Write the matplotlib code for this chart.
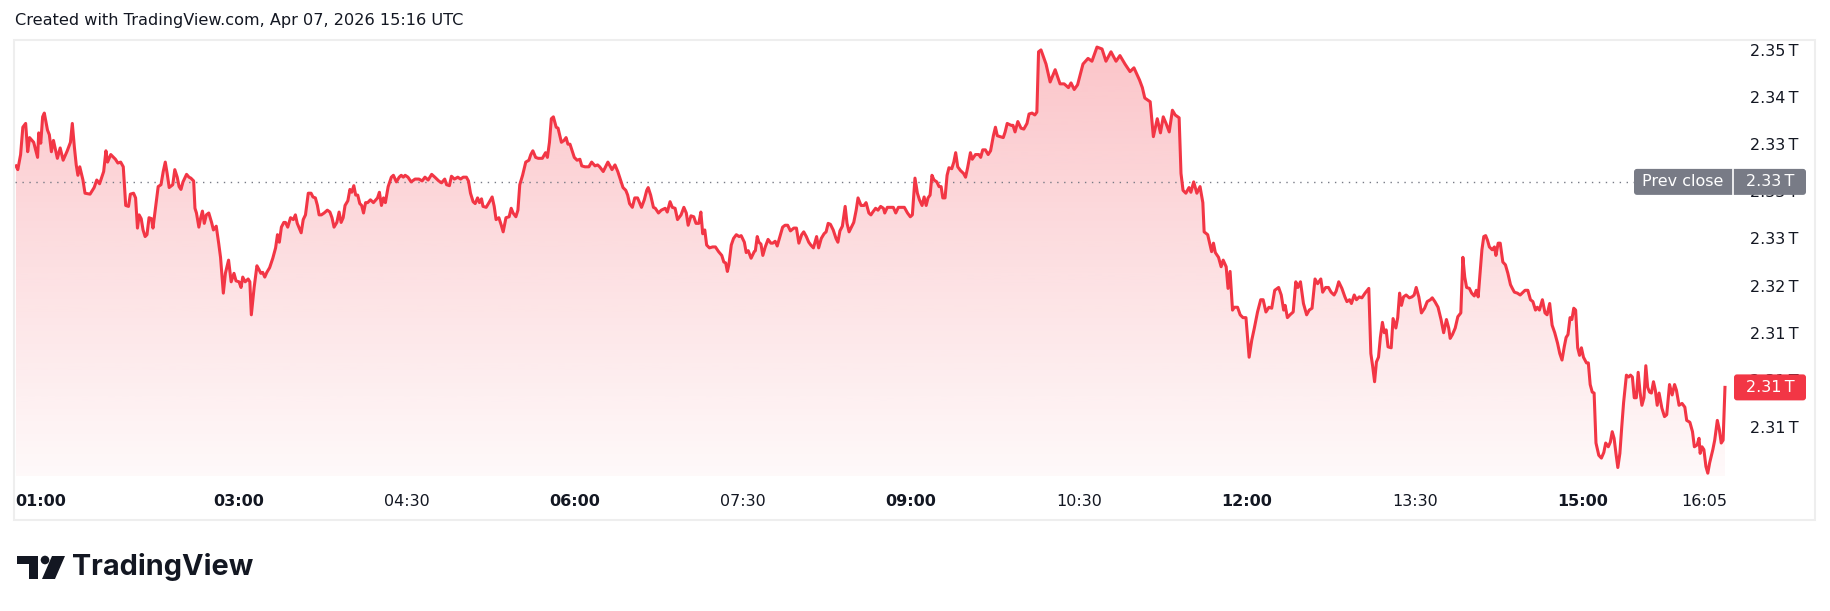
import numpy as np
import matplotlib.pyplot as plt
from matplotlib.patches import FancyBboxPatch, Rectangle, Polygon, Circle
from matplotlib.transforms import IdentityTransform


# -------------------------------------------------
# data: minutes after 01:00, value in T
# -------------------------------------------------
minutes = [
    0.5, 1.5, 3.0, 4.2, 5.7, 6.8, 7.8, 10.0, 12.1, 12.7, 13.8, 14.8, 15.7, 17.4, 18.4, 19.5, 20.6, 22.7, 24.2, 25.8,
    28.0, 29.7, 30.7, 31.8, 32.8, 33.7, 34.7, 36.4, 37.5, 40.2, 42.4, 43.8, 45.3, 47.5, 48.7, 49.6, 51.3, 53.8, 55.1, 56.6,
    58.0, 59.3, 60.8, 61.8, 63.5, 64.6, 65.6, 66.5, 67.6, 68.6, 69.7, 70.7, 71.8, 73.1, 73.9, 74.9, 76.7, 78.2, 79.4, 80.5,
    81.5, 82.6, 84.5, 85.6, 86.9, 87.9, 88.9, 90.0, 91.9, 93.2, 94.2, 95.7, 96.4, 97.2, 98.5, 99.5, 100.4, 101.4, 102.5, 103.8,
    105.3, 106.3, 107.8, 109.1, 110.1, 111.6, 112.7, 114.4, 115.8, 117.3, 118.4, 120.0, 121.1, 122.0, 123.3, 124.9, 125.8, 126.6, 128.1, 129.6,
    130.7, 131.7, 132.7, 133.8, 134.9, 136.4, 138.1, 139.6, 140.6, 141.6, 142.7, 144.0, 144.9, 146.1, 147.6, 149.1, 150.2, 151.2, 153.3, 154.4,
    155.6, 157.1, 158.6, 159.6, 160.9, 162.0, 162.9, 164.1, 165.6, 167.3, 168.7, 169.8, 170.9, 172.4, 173.6, 174.7, 175.8, 176.8, 178.3, 179.4,
    180.4, 181.5, 182.5, 183.6, 184.7, 185.7, 186.7, 187.8, 188.9, 190.4, 192.0, 194.2, 195.2, 196.3, 197.4, 198.4, 199.9, 201.6, 202.7, 204.3,
    205.8, 206.9, 208.0, 209.0, 210.5, 212.2, 214.3, 216.4, 218.1, 219.6, 221.3, 223.2, 224.9, 227.0, 228.5, 230.2, 231.2, 232.7, 233.8, 235.4,
    237.2, 238.7, 240.1, 241.8, 242.9, 244.0, 245.4, 246.5, 247.8, 248.8, 249.9, 250.7, 252.4, 253.9, 255.6, 256.7, 257.7, 259.2, 260.5, 261.5,
    263.0, 264.7, 265.8, 266.8, 268.3, 269.4, 270.4, 271.9, 273.6, 275.3, 276.3, 277.4, 278.9, 280.3, 282.5, 284.2, 285.2, 286.3, 287.3, 288.4,
    289.9, 290.9, 292.7, 294.1, 295.2, 296.2, 297.3, 298.3, 299.6, 301.1, 302.6, 303.6, 305.3, 307.4, 308.9, 310.7, 312.1, 313.2, 315.1, 317.6,
    319.8, 321.4, 322.9, 324.4, 325.7, 327.2, 328.2, 329.2, 330.7, 332.0, 333.5, 335.6, 337.1, 338.4, 339.2, 340.5, 342.0, 343.0, 344.7, 346.2,
    348.3, 349.4, 350.9, 352.1, 353.6, 354.9, 356.8, 358.3, 359.6, 360.6, 362.1, 363.6, 364.8, 366.3, 367.4, 368.4, 369.5, 370.5, 372.0, 373.7,
    375.2, 376.9, 378.6, 379.7, 380.7, 381.6, 382.4, 383.7, 384.9, 386.4, 387.9, 389.0, 390.7, 391.7, 392.8, 394.3, 396.0, 396.6, 397.6, 398.5,
    399.6, 400.6, 401.9, 403.4, 404.9, 405.9, 407.2, 408.3, 409.3, 411.2, 412.5, 413.9, 415.4, 417.2, 418.6, 419.9, 421.4, 422.5, 423.9, 425.2,
    426.3, 427.7, 429.4, 430.5, 431.9, 433.4, 434.5, 435.6, 436.8, 438.3, 439.8, 440.8, 441.9, 443.2, 444.7, 445.7, 446.8, 447.8, 449.3, 450.6,
    451.6, 453.2, 454.8, 455.9, 457.4, 458.5, 459.5, 461.0, 462.3, 463.7, 465.2, 465.9, 467.3, 469.0, 470.5, 471.8, 473.2, 474.7, 476.4, 478.1,
    479.6, 480.7, 482.1, 483.4, 484.5, 485.9, 487.0, 488.1, 489.1, 490.2, 491.2, 492.3, 493.8, 495.0, 496.1, 497.0, 498.2, 499.3, 500.3, 501.8,
    502.9, 503.9, 505.0, 506.5, 508.1, 509.2, 510.3, 511.8, 512.8, 514.5, 516.3, 517.3, 518.4, 519.8, 521.3, 522.6, 524.1, 525.2, 526.2, 527.7,
    529.4, 530.4, 531.5, 533.6, 534.6, 535.7, 537.2, 538.9, 540.4, 542.1, 543.2, 544.8, 546.3, 547.4, 548.3, 549.6, 552.3, 554.5, 557.2, 559.8,
    562.0, 564.3, 565.7, 567.4, 569.2, 570.5, 572.1, 574.8, 576.9, 579.6, 582.3, 584.4, 587.1, 589.8, 591.9, 594.6, 597.3, 599.4, 602.4, 603.9,
    605.2, 606.6, 608.1, 609.8, 611.9, 613.6, 615.1, 616.6, 618.3, 620.0, 621.5, 623.6, 624.6, 625.7, 627.2, 628.9, 629.9, 631.4, 633.1, 634.8,
    636.3, 637.0, 638.9, 641.0, 642.0, 643.0, 644.7, 646.1, 647.2, 648.8, 649.8, 650.9, 652.2, 653.2, 654.9, 656.3, 657.8, 659.4, 661.1, 662.5,
    663.9, 665.6, 667.3, 668.6, 670.1, 671.7, 673.2, 674.8, 676.9, 678.3, 679.6, 680.4, 681.6, 683.0, 684.7, 686.1, 687.2, 688.6, 690.2, 691.9,
    693.3, 694.8, 696.4, 697.8, 699.5, 700.5, 702.1, 703.6, 705.0, 706.6, 707.7, 709.1, 710.8, 712.4, 713.5, 714.9, 715.9, 717.4, 718.6, 720.1,
    721.5, 723.2, 725.2, 726.3, 727.3, 728.3, 729.3, 730.4, 731.4, 732.5, 733.5, 734.5, 735.5, 737.2, 738.2, 739.7, 740.7, 741.7, 742.7, 743.8,
    745.2, 746.9, 748.3, 749.5, 750.6, 752.0, 753.4, 755.1, 756.5, 758.2, 759.2, 760.6, 762.3, 763.9, 765.3, 766.8, 768.0, 768.8, 770.0, 771.5,
    772.9, 774.5, 775.6, 776.6, 777.6, 779.1, 780.3, 781.7, 782.8, 783.8, 784.8, 785.8, 786.8, 787.8, 788.8, 789.8, 791.3, 792.5, 793.3, 794.5,
    795.6, 797.0, 798.4, 799.7, 801.1, 802.1, 803.2, 804.8, 806.3, 807.9, 808.9, 810.4, 811.8, 813.1, 814.5, 815.5, 816.6, 818.2, 819.6, 820.7,
    822.1, 823.4, 824.8, 826.3, 827.5, 828.7, 829.9, 830.9, 831.9, 833.0, 834.0, 835.0, 836.0, 837.1, 838.1, 839.1, 840.2, 841.8, 842.8, 843.8,
    844.9, 845.9, 846.9, 848.4, 849.8, 851.1, 852.1, 853.5, 854.6, 855.6, 856.6, 857.6, 858.6, 859.7, 860.7, 861.7, 863.2, 864.4, 865.4, 866.4,
    867.4, 868.5, 869.5, 870.5, 871.5, 872.6, 873.6, 874.6, 875.6, 876.6, 877.7, 878.7, 879.7, 880.7, 882.2, 883.6, 884.8, 886.3, 887.7, 889.0,
    890.0, 891.4, 893.0, 894.5, 895.5, 897.2, 898.6, 899.6, 901.1, 902.1, 902.7, 903.7, 904.7, 905.8, 906.8, 907.8, 909.5, 910.5, 911.9, 913.0,
    914.0, 915.0, 916.0,
]

values = [
    2.3327, 2.3323, 2.3339, 2.3368, 2.3372, 2.3342, 2.3357, 2.3352, 2.3336, 2.3362, 2.3351, 2.3379, 2.3383, 2.3365, 2.3360, 2.3342, 2.3354, 2.3335, 2.3346, 2.3333,
    2.3343, 2.3352, 2.3372, 2.3347, 2.3328, 2.3317, 2.3326, 2.3312, 2.3298, 2.3297, 2.3304, 2.3312, 2.3308, 2.3321, 2.3343, 2.3331, 2.3339, 2.3334, 2.3330, 2.3331,
    2.3326, 2.3285, 2.3284, 2.3297, 2.3298, 2.3293, 2.3261, 2.3275, 2.3271, 2.3259, 2.3252, 2.3254, 2.3272, 2.3271, 2.3261, 2.3277, 2.3305, 2.3307, 2.3321, 2.3331,
    2.3319, 2.3304, 2.3307, 2.3323, 2.3315, 2.3305, 2.3302, 2.3310, 2.3318, 2.3315, 2.3314, 2.3311, 2.3282, 2.3277, 2.3262, 2.3272, 2.3279, 2.3266, 2.3275, 2.3277,
    2.3267, 2.3259, 2.3263, 2.3245, 2.3230, 2.3192, 2.3213, 2.3227, 2.3204, 2.3213, 2.3205, 2.3204, 2.3198, 2.3209, 2.3204, 2.3207, 2.3204, 2.3169, 2.3198, 2.3221,
    2.3217, 2.3213, 2.3214, 2.3209, 2.3214, 2.3219, 2.3229, 2.3240, 2.3254, 2.3246, 2.3262, 2.3267, 2.3267, 2.3262, 2.3272, 2.3270, 2.3275, 2.3266, 2.3256, 2.3270,
    2.3275, 2.3298, 2.3298, 2.3294, 2.3293, 2.3285, 2.3275, 2.3275, 2.3277, 2.3280, 2.3278, 2.3272, 2.3262, 2.3267, 2.3278, 2.3267, 2.3272, 2.3285, 2.3290, 2.3302,
    2.3299, 2.3306, 2.3296, 2.3296, 2.3287, 2.3285, 2.3277, 2.3288, 2.3288, 2.3291, 2.3288, 2.3293, 2.3299, 2.3285, 2.3293, 2.3288, 2.3305, 2.3315, 2.3317, 2.3310,
    2.3315, 2.3317, 2.3315, 2.3317, 2.3315, 2.3310, 2.3313, 2.3313, 2.3311, 2.3315, 2.3312, 2.3318, 2.3315, 2.3311, 2.3309, 2.3313, 2.3307, 2.3306, 2.3316, 2.3313,
    2.3315, 2.3313, 2.3315, 2.3315, 2.3311, 2.3298, 2.3289, 2.3287, 2.3293, 2.3288, 2.3292, 2.3284, 2.3283, 2.3288, 2.3294, 2.3284, 2.3270, 2.3272, 2.3264, 2.3257,
    2.3272, 2.3273, 2.3282, 2.3277, 2.3273, 2.3280, 2.3307, 2.3317, 2.3331, 2.3333, 2.3339, 2.3343, 2.3336, 2.3335, 2.3335, 2.3341, 2.3336, 2.3352, 2.3377, 2.3379,
    2.3368, 2.3367, 2.3352, 2.3354, 2.3357, 2.3350, 2.3350, 2.3344, 2.3336, 2.3333, 2.3334, 2.3327, 2.3326, 2.3326, 2.3331, 2.3327, 2.3328, 2.3326, 2.3321, 2.3331,
    2.3323, 2.3328, 2.3321, 2.3312, 2.3304, 2.3301, 2.3296, 2.3287, 2.3283, 2.3293, 2.3293, 2.3283, 2.3291, 2.3301, 2.3304, 2.3296, 2.3283, 2.3282, 2.3277, 2.3280,
    2.3282, 2.3278, 2.3289, 2.3283, 2.3282, 2.3270, 2.3275, 2.3283, 2.3277, 2.3264, 2.3274, 2.3273, 2.3266, 2.3266, 2.3278, 2.3255, 2.3259, 2.3243, 2.3240, 2.3241,
    2.3241, 2.3236, 2.3232, 2.3225, 2.3224, 2.3215, 2.3222, 2.3243, 2.3250, 2.3254, 2.3252, 2.3253, 2.3246, 2.3235, 2.3237, 2.3229, 2.3236, 2.3237, 2.3252, 2.3246,
    2.3244, 2.3232, 2.3241, 2.3249, 2.3245, 2.3245, 2.3247, 2.3242, 2.3249, 2.3262, 2.3264, 2.3264, 2.3258, 2.3261, 2.3261, 2.3245, 2.3254, 2.3257, 2.3252, 2.3246,
    2.3243, 2.3240, 2.3252, 2.3240, 2.3250, 2.3255, 2.3257, 2.3266, 2.3265, 2.3259, 2.3250, 2.3246, 2.3258, 2.3263, 2.3284, 2.3266, 2.3257, 2.3261, 2.3267, 2.3280,
    2.3293, 2.3285, 2.3285, 2.3288, 2.3277, 2.3275, 2.3278, 2.3282, 2.3280, 2.3284, 2.3282, 2.3277, 2.3283, 2.3283, 2.3283, 2.3277, 2.3283, 2.3283, 2.3283, 2.3277,
    2.3273, 2.3275, 2.3314, 2.3298, 2.3291, 2.3285, 2.3294, 2.3285, 2.3293, 2.3296, 2.3317, 2.3312, 2.3310, 2.3305, 2.3305, 2.3293, 2.3293, 2.3317, 2.3325, 2.3324,
    2.3331, 2.3341, 2.3326, 2.3322, 2.3319, 2.3315, 2.3325, 2.3341, 2.3334, 2.3339, 2.3339, 2.3336, 2.3344, 2.3344, 2.3339, 2.3343, 2.3359, 2.3368, 2.3359, 2.3358,
    2.3357, 2.3363, 2.3372, 2.3370, 2.3370, 2.3363, 2.3374, 2.3367, 2.3366, 2.3372, 2.3382, 2.3383, 2.3381, 2.3384, 2.3448, 2.3450, 2.3435, 2.3416, 2.3429, 2.3414,
    2.3414, 2.3410, 2.3415, 2.3408, 2.3413, 2.3423, 2.3435, 2.3441, 2.3438, 2.3453, 2.3451, 2.3438, 2.3448, 2.3438, 2.3444, 2.3435, 2.3427, 2.3431, 2.3418, 2.3410,
    2.3399, 2.3397, 2.3395, 2.3358, 2.3377, 2.3362, 2.3379, 2.3372, 2.3363, 2.3386, 2.3381, 2.3378, 2.3319, 2.3301, 2.3298, 2.3304, 2.3299, 2.3310, 2.3298, 2.3305,
    2.3288, 2.3257, 2.3254, 2.3236, 2.3245, 2.3235, 2.3230, 2.3220, 2.3227, 2.3220, 2.3197, 2.3215, 2.3174, 2.3177, 2.3177, 2.3169, 2.3166, 2.3166, 2.3124, 2.3142,
    2.3155, 2.3172, 2.3185, 2.3185, 2.3172, 2.3177, 2.3176, 2.3195, 2.3198, 2.3190, 2.3174, 2.3179, 2.3166, 2.3169, 2.3172, 2.3204, 2.3198, 2.3204, 2.3181, 2.3169,
    2.3174, 2.3176, 2.3207, 2.3202, 2.3207, 2.3193, 2.3198, 2.3198, 2.3193, 2.3190, 2.3194, 2.3204, 2.3197, 2.3188, 2.3183, 2.3185, 2.3181, 2.3190, 2.3185, 2.3188,
    2.3187, 2.3192, 2.3197, 2.3128, 2.3114, 2.3098, 2.3119, 2.3124, 2.3145, 2.3161, 2.3150, 2.3153, 2.3135, 2.3134, 2.3165, 2.3155, 2.3166, 2.3192, 2.3179, 2.3188,
    2.3190, 2.3187, 2.3188, 2.3190, 2.3198, 2.3188, 2.3171, 2.3176, 2.3183, 2.3185, 2.3187, 2.3183, 2.3177, 2.3164, 2.3150, 2.3164, 2.3155, 2.3144, 2.3148, 2.3155,
    2.3167, 2.3171, 2.3230, 2.3209, 2.3198, 2.3197, 2.3192, 2.3189, 2.3195, 2.3188, 2.3213, 2.3238, 2.3252, 2.3253, 2.3248, 2.3241, 2.3238, 2.3241, 2.3232, 2.3245,
    2.3245, 2.3225, 2.3222, 2.3213, 2.3201, 2.3197, 2.3193, 2.3192, 2.3190, 2.3193, 2.3195, 2.3195, 2.3185, 2.3183, 2.3174, 2.3177, 2.3174, 2.3185, 2.3171, 2.3169,
    2.3181, 2.3158, 2.3150, 2.3139, 2.3128, 2.3121, 2.3135, 2.3145, 2.3148, 2.3166, 2.3164, 2.3176, 2.3174, 2.3134, 2.3126, 2.3134, 2.3124, 2.3118, 2.3118, 2.3095,
    2.3087, 2.3086, 2.3033, 2.3020, 2.3017, 2.3023, 2.3033, 2.3029, 2.3034, 2.3045, 2.3038, 2.3022, 2.3007, 2.3022, 2.3050, 2.3076, 2.3105, 2.3103, 2.3105, 2.3103,
    2.3081, 2.3081, 2.3108, 2.3087, 2.3073, 2.3081, 2.3115, 2.3092, 2.3087, 2.3086, 2.3098, 2.3089, 2.3073, 2.3086, 2.3070, 2.3061, 2.3063, 2.3095, 2.3084, 2.3095,
    2.3089, 2.3073, 2.3075, 2.3071, 2.3057, 2.3055, 2.3045, 2.3029, 2.3031, 2.3038, 2.3022, 2.3029, 2.3026, 2.3008, 2.3001, 2.3012, 2.3026, 2.3036, 2.3057, 2.3047,
    2.3033, 2.3036, 2.3092,
]

prev_close = 2.3310

time_labels = ["01:00", "03:00", "04:30", "06:00", "07:30", "09:00",
               "10:30", "12:00", "13:30", "15:00", "16:05"]
price_ticks = [2.345, 2.340, 2.335, 2.330, 2.325, 2.320, 2.315, 2.310, 2.305]
price_labels = ["2.35\u2009T", "2.34\u2009T", "2.33\u2009T", "2.33\u2009T", "2.33\u2009T",
                "2.32\u2009T", "2.31\u2009T", "2.31\u2009T", "2.31\u2009T"]

# -------------------------------------------------
# style
# -------------------------------------------------
RED = "#f23645"
TEXT = "#131722"
GREY_LABEL = "#787b86"
FS = 11.5
W, H = 1830, 611

plt.rcParams["font.family"] = ["DejaVu Sans"]


def fx(x):
    return x / W


def fy(y):
    # pixel measured from the top -> figure fraction
    return 1 - y / H


fig = plt.figure(figsize=(W / 100, H / 100), dpi=100)
fig.patch.set_facecolor("white")

ax = fig.add_axes([fx(15), fy(476), fx(1733) - fx(15), fy(42) - fy(476)])
x_lo, x_hi = 0.0, 920.3
y_lo, y_hi = 2.2998, 2.34584

# line + gradient area
ax.plot(minutes, values, color=RED, lw=2.2, solid_joinstyle="round", zorder=3)
area = ax.fill_between(minutes, values, y_lo, facecolor="none", edgecolor="none")

grad = np.zeros((256, 1, 4))
grad[..., 0] = 242 / 255
grad[..., 1] = 54 / 255
grad[..., 2] = 69 / 255
grad[..., 3] = np.linspace(0.29, 0.03, 256)[:, None]
im = ax.imshow(grad, extent=[x_lo, x_hi, y_lo, max(values)], aspect="auto",
               origin="upper", zorder=1)
im.set_clip_path(area.get_paths()[0], transform=ax.transData)

# previous close dotted line
ax.axhline(prev_close, color=GREY_LABEL, lw=1.0, linestyle=(0, (1, 4)), zorder=2)

ax.set_xlim(x_lo, x_hi)
ax.set_ylim(y_lo, y_hi)

for s in ax.spines.values():
    s.set_visible(False)

# time axis
tick_minutes = [(int(t[:2]) - 1) * 60 + int(t[3:]) for t in time_labels]
ax.set_xticks(tick_minutes, time_labels)
ax.tick_params(axis="x", length=0, pad=13, labelsize=FS, labelcolor=TEXT)
for lbl in ax.get_xticklabels():
    if lbl.get_text().endswith(":00"):
        lbl.set_fontweight("bold")
ax.get_xticklabels()[0].set_horizontalalignment("left")

# price axis
ax.yaxis.tick_right()
ax.set_yticks(price_ticks, price_labels)
ax.tick_params(axis="y", length=0, pad=12, labelsize=FS, labelcolor=TEXT)

# outer frame
fig.add_artist(Rectangle((fx(14), fy(520)), fx(1815) - fx(14), fy(40) - fy(520),
                         transform=fig.transFigure, fill=False,
                         edgecolor="#eeeeee", lw=1.5))

# header
fig.text(fx(15), fy(20), "Created with TradingView.com, Apr 07, 2026 15:16 UTC",
         fontsize=11.6, color=TEXT, va="center", ha="left")


# -------------------------------------------------
# price scale labels (drawn in pixel space)
# -------------------------------------------------
def y_display(v):
    return ax.transData.transform((0, v))[1]


def price_box(x0, x1, v, color):
    yc = y_display(v)
    box = FancyBboxPatch((x0, yc - 13), x1 - x0, 26,
                         boxstyle="round,pad=0,rounding_size=3",
                         transform=IdentityTransform(), facecolor=color,
                         edgecolor="none", zorder=10)
    fig.add_artist(box)
    return yc


yc = price_box(1634, 1806, prev_close, GREY_LABEL)
fig.add_artist(plt.Line2D([1733, 1733], [yc - 13, yc + 13], color="white", lw=1.2,
                          transform=IdentityTransform(), zorder=11))
fig.text(1683 / W, yc / H, "Prev close", color="white", fontsize=FS,
         ha="center", va="center", zorder=12)
fig.text(1770 / W, yc / H, f"{prev_close:.2f}\u2009T", color="white", fontsize=FS,
         ha="center", va="center", zorder=12)

last = values[-1]
yc = price_box(1734, 1806, last, RED)
fig.text(1770 / W, yc / H, f"{last:.2f}\u2009T", color="white", fontsize=FS,
         ha="center", va="center", zorder=12)

# -------------------------------------------------
# TradingView logo
# -------------------------------------------------
def px_poly(points, **kw):
    return Polygon([(fx(x), fy(y)) for x, y in points], closed=True,
                   transform=fig.transFigure, **kw)


fig.add_artist(px_poly([(17, 556), (38, 556), (38, 579), (29, 579), (29, 564), (17, 564)],
                       facecolor=TEXT, edgecolor="none"))
fig.add_artist(Circle((45, H - 560), 4.3, transform=IdentityTransform(),
                      facecolor=TEXT, edgecolor="none"))
fig.add_artist(px_poly([(52, 556), (65, 556), (55, 579), (42, 579)],
                       facecolor=TEXT, edgecolor="none"))
fig.text(fx(72), fy(567), "TradingView", fontsize=20.8, fontweight="bold",
         family=["Inter", "DejaVu Sans"], color=TEXT, ha="left", va="center")

fig.savefig("out.png", dpi=100, facecolor="white")
